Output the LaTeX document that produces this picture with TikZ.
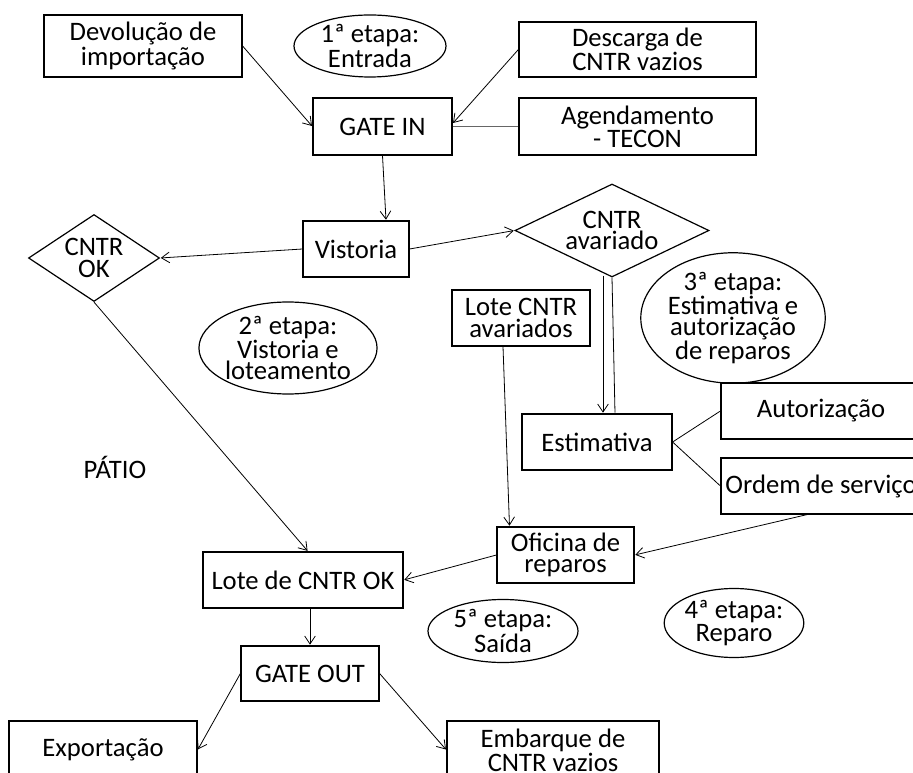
\documentclass[tikz,border=0pt]{standalone}
\usepackage{fontspec}
\setmainfont{Carlito}
\usetikzlibrary{shapes.geometric,arrows.meta,calc}

\begin{document}
\begin{tikzpicture}%
  [x=0.75pt, y=-0.75pt,
   >={Straight Barb[length=6pt,width=8pt]},
   shorten >=0.5pt,
   every node/.style={font=\fontsize{20}{16}\selectfont, inner sep=0pt, align=center},
   box/.style={draw, line width=0.9pt, minimum height=42pt},
   stage/.style={ellipse, draw, line width=0.9pt},
   decision/.style={diamond, draw, line width=0.9pt},
  ]
\useasboundingbox (0,0) rectangle (913,773);

\node[box, minimum width=148.5pt, minimum height=46.5pt] (devol) at (143,46) {Devolução de\\importação};
\node[stage, minimum width=114pt, minimum height=46.5pt] (et1) at (370,46) {1ª etapa:\\Entrada};
\node[box, minimum width=177.75pt, minimum height=41.25pt] (desc) at (637.5,49.5) {Descarga de\\CNTR vazios};
\node[box, minimum width=104.25pt, minimum height=42.75pt] (gin) at (382.5,126.5) {GATE IN};
\node[box, minimum width=177.75pt, minimum height=42.75pt] (agend) at (637.5,126.5) {Agendamento\\- TECON};
\node[box, minimum width=79.5pt] (vist) at (356,249) {Vistoria};
\node[decision, shape aspect=1.5, minimum width=98.25pt, minimum height=65.25pt] (ok) at (94,258) {CNTR\\OK};
\node[decision, shape aspect=2, minimum width=145.5pt, minimum height=69.75pt] (avar) at (612,230.5) {CNTR\\avariado};
\node[box, minimum width=103.5pt] (lotav) at (521,318) {Lote CNTR\\avariados};
\node[stage, minimum width=132pt, minimum height=84.75pt] (et3) at (733,318) {3ª etapa:\\Estimativa e\\autorização\\de reparos};
\node[stage, minimum width=126pt, minimum height=69pt] (et2) at (288,348) {2ª etapa:\\Vistoria e\\loteamento};
\node[box, minimum width=112.5pt] (estim) at (597,442) {Estimativa};
\node[box, minimum width=150pt] (autor) at (821,411) {Autorização};
\node[box, minimum width=150pt] (ordem) at (821,486) {Ordem de serviço};
\node (patio) at (115,467) {PÁTIO};
\node[box, minimum width=102.75pt] (ofic) at (565.5,555) {Oficina de\\reparos};
\node[box, minimum width=150pt] (lotok) at (303,580) {Lote de CNTR OK};
\node[stage, minimum width=99pt, minimum height=51.75pt] (et4) at (734,623) {4ª etapa:\\Reparo};
\node[stage, minimum width=112.5pt, minimum height=47.25pt] (et5) at (503,631) {5ª etapa:\\Saída};
\node[box, minimum width=103.5pt, minimum height=41.25pt] (gout) at (310,673.5) {GATE OUT};
\node[box, minimum width=141pt, minimum height=43.5pt] (expo) at (103,750) {Exportação};
\node[box, minimum width=159pt, minimum height=43.5pt] (emb) at (553,750) {Embarque de\\CNTR vazios};

\path[->, line width=0.6pt]
%   FROM                           TO
   (devol.east) edge               (gin.west)
   (desc.west)  edge               ($(gin.east)+(0,-3)$)
   (gin.south) edge                ($(vist.north)+(30,0)$)
   (vist.west)  edge               (ok.east)
   (vist.east)  edge               (avar.west)
   ($(avar.south)+(-9,-2)$) edge   ($(estim.north)+(6,0)$)
   ($(lotav.south)+(-18,0)$) edge  ($(ofic.north)+(-56,0)$)
   ($(ordem.south)+(-14,0)$) edge  (ofic.east)
   (ofic.west)  edge               (lotok.east)
   (ok.south) edge                 ($(lotok.north)+(5,0)$)
   (lotok.south -| gout.north) edge (gout.north)
   (gout.west)  edge               (expo.east)
   (gout.east)  edge               (emb.west)
           ;

\path[line width=0.6pt]
   (avar.south) edge               ($(estim.north)+(18,0)$)
   (estim.east) edge               (autor.west)
                edge               (ordem.west)
           ;
\draw[gray!80!black, line width=1.3pt] (agend.west) -- (gin.east);
\end{tikzpicture}
\end{document}
